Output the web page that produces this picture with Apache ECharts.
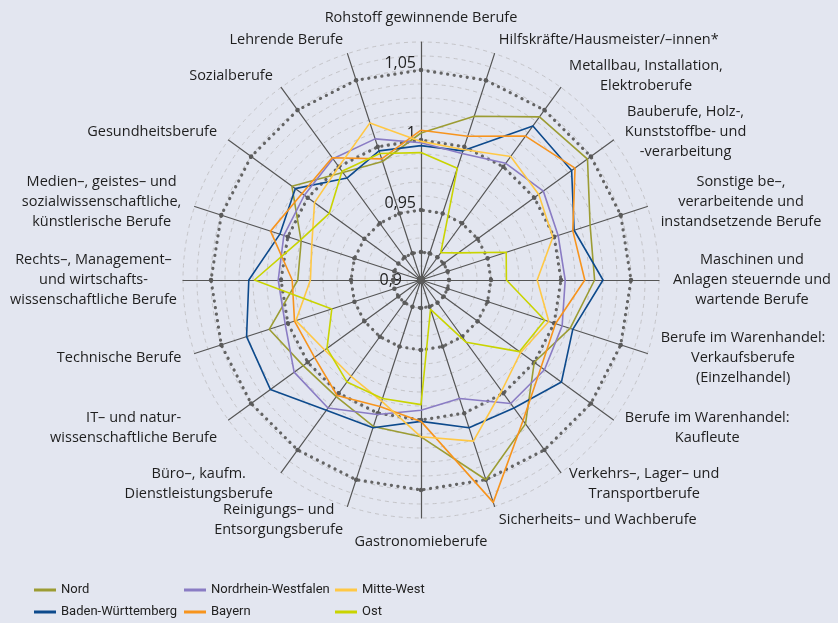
<!DOCTYPE html>
<html>
<head>
<meta charset="utf-8">
<script src="https://cdn.jsdelivr.net/npm/echarts@6/dist/echarts.min.js"></script>
<style>
  html, body { margin: 0; padding: 0; background: #e3e6f0; }
  #chart { width: 838px; height: 623px; }
</style>
</head>
<body>
<div id="chart"></div>
<script>
// Categories in clockwise order starting at the top
const categories = [
  "Rohstoff gewinnende Berufe",
  "Hilfskräfte/Hausmeister/–innen*",
  "Metallbau, Installation,\nElektroberufe",
  "Bauberufe, Holz-,\nKunststoffbe- und\n-verarbeitung",
  "Sonstige be–,\nverarbeitende und\ninstandsetzende Berufe",
  "Maschinen und\nAnlagen steuernde und\nwartende Berufe",
  "Berufe im Warenhandel:\nVerkaufsberufe\n(Einzelhandel)",
  "Berufe im Warenhandel:\nKaufleute",
  "Verkehrs–, Lager– und\nTransportberufe",
  "Sicherheits– und Wachberufe",
  "Gastronomieberufe",
  "Reinigungs– und\nEntsorgungsberufe",
  "Büro–, kaufm.\nDienstleistungsberufe",
  "IT– und natur-\nwissenschaftliche Berufe",
  "Technische Berufe",
  "Rechts–, Management–\nund wirtschafts-\nwissenschaftliche Berufe",
  "Medien–, geistes– und\nsozialwissenschaftliche,\nkünstlerische Berufe",
  "Gesundheitsberufe",
  "Sozialberufe",
  "Lehrende Berufe"
];

const seriesNames = ["Nord", "Baden-Württemberg", "Nordrhein-Westfalen", "Bayern", "Mitte-West", "Ost"];

const nord   = [1.005, 1.023, 1.044, 1.047, 1.027, 1.024, 1.012, 1.000, 1.027, 1.050, 1.012, 1.010, 1.003, 1.004, 1.014, 0.988, 0.990, 1.014, 0.995, 0.989];
const bw     = [0.996, 0.997, 1.036, 1.033, 1.015, 1.030, 1.014, 1.024, 1.013, 1.011, 1.001, 1.011, 1.015, 1.033, 1.031, 1.023, 1.006, 1.011, 0.990, 0.997];
const nrw    = [0.998, 0.995, 1.003, 1.008, 1.003, 1.003, 1.006, 1.009, 1.009, 0.989, 0.993, 1.001, 1.013, 1.012, 1.002, 1.002, 1.003, 1.003, 1.007, 1.006];
const bayern = [1.007, 1.008, 1.027, 1.036, 1.014, 1.017, 1.001, 1.006, 1.024, 1.067, 1.001, 0.995, 1.002, 0.994, 0.995, 0.992, 1.013, 1.005, 1.008, 0.991];
const mitteWest = [0.999, 0.998, 1.009, 1.004, 0.999, 0.983, 0.996, 0.988, 0.998, 1.021, 1.012, 0.991, 0.985, 0.985, 0.994, 0.979, 0.982, 0.994, 1.000, 1.018];
const ost    = [0.991, 0.984, 0.924, 0.933, 0.964, 0.961, 0.993, 0.987, 0.955, 0.922, 0.989, 0.989, 0.990, 0.983, 0.967, 1.019, 0.991, 0.981, 0.996, 0.995];

const seriesColors = ["#9c9c33", "#0d4a8c", "#8a7cc4", "#f7941d", "#ffc845", "#c9d400"];

const axisMin = 0.9;
const axisMax = 1.07;
const tickLabels = { 90: "0,9", 95: "0,95", 100: "1", 105: "1,05" };
const refRings = [0.9, 0.92, 0.95, 1.0, 1.05];

// ECharts radar places indicators counter-clockwise; reorder to draw clockwise
function cw(arr) { return [arr[0]].concat(arr.slice(1).reverse()); }

const allValues = [nord, bw, nrw, bayern, mitteWest, ost];
const FONT = "'Open Sans', 'Noto Sans', sans-serif";
const LEGEND_FONT = "Roboto, 'Noto Sans', sans-serif";

const indicator = cw(categories).map(function (name, k) {
  const o = { name: name, min: axisMin, max: axisMax };
  if (k === 0) o.axisLabel = { show: true };
  // the left-hand three-line label sits closer to its spoke
  if (name.indexOf('Rechts') === 0) o.nameGap = 6;
  return o;
});

const series = [];
refRings.forEach(function (v, k) {
  series.push({
    type: 'radar',
    name: 'ring' + k,
    silent: true,
    z: 1,
    symbol: 'circle',
    symbolSize: k === 0 ? 8 : 4.5,
    itemStyle: { color: '#5a5a5a' },
    lineStyle: { color: '#646464', width: 3.2, type: [0.1, 6.5], cap: 'round' },
    data: [{ name: 'ring' + k, value: categories.map(function () { return v; }) }]
  });
});
seriesNames.forEach(function (n, k) {
  series.push({
    type: 'radar',
    name: n,
    z: 3,
    symbol: 'none',
    itemStyle: { color: seriesColors[k] },
    lineStyle: { color: seriesColors[k], width: 1.6 },
    data: [{ name: n, value: cw(allValues[k]) }]
  });
});

const legendCommon = {
  orient: 'vertical',
  top: 583,
  padding: 0,
  itemGap: 8,
  itemWidth: 22,
  itemHeight: 3,
  icon: 'rect',
  textStyle: { fontFamily: LEGEND_FONT, fontSize: 13, color: '#222', lineHeight: 14 }
};

const chart = echarts.init(document.getElementById('chart'), null, { renderer: 'canvas' });
chart.setOption({
  backgroundColor: '#e3e6f0',
  animation: false,
  legend: [
    Object.assign({}, legendCommon, { left: 34, data: [seriesNames[0], seriesNames[1]] }),
    Object.assign({}, legendCommon, { left: 184, data: [seriesNames[2], seriesNames[3]] }),
    Object.assign({}, legendCommon, { left: 335, data: [seriesNames[4], seriesNames[5]] })
  ],
  radar: {
    center: [421, 280],
    radius: 238,
    startAngle: 90,
    shape: 'circle',
    splitNumber: 17,
    nameGap: 14,
    indicator: indicator,
    axisName: {
      color: '#1e1e1e',
      fontFamily: FONT,
      fontSize: 14.5,
      formatter: function (name) {
        return name.split('\n').map(function (s) { return '{c|' + s + '}'; }).join('\n');
      },
      rich: {
        c: { align: 'center', fontFamily: FONT, fontSize: 14.5, color: '#1e1e1e', lineHeight: 20 }
      }
    },
    axisLine: { show: true, lineStyle: { color: '#555', width: 1.2 } },
    axisTick: { show: false },
    splitLine: { show: true, lineStyle: { color: '#c4c4c8', width: 1, type: [4, 4] } },
    splitArea: { show: false },
    axisLabel: {
      show: false,
      margin: 5,
      fontFamily: FONT,
      fontSize: 16,
      color: '#222',
      formatter: function (v) {
        const key = Math.round(v * 100);
        const t = tickLabels[key];
        if (!t) return '';
        return key === 90 ? '{z|' + t + '}' : '{u|' + t + '}';
      },
      rich: {
        u: { fontFamily: FONT, fontSize: 16, color: '#222', padding: [0, 0, 14, 0] },
        z: { fontFamily: FONT, fontSize: 16, color: '#222', padding: [0, 14, 0, 0] }
      }
    }
  },
  series: series
});
</script>
</body>
</html>
